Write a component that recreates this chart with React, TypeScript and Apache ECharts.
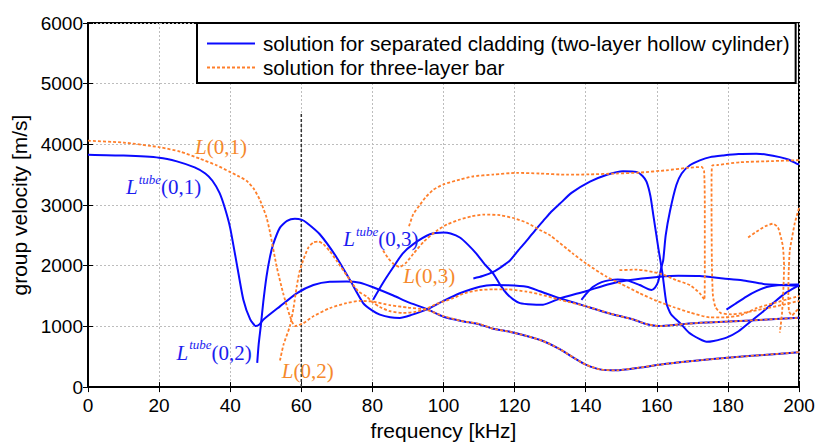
import React, { useEffect, useRef } from 'react';
import * as echarts from 'echarts';

const BLUE_NAME = 'solution for separated cladding (two-layer hollow cylinder)';
const ORANGE_NAME = 'solution for three-layer bar';
const BLUE = '#0a0aff';
const ORANGE = '#ff7f2a';
const LABEL_ORANGE = '#f5892c';
const LABEL_BLUE = '#1c1cf0';

// x: frequency [kHz], y: group velocity [m/s]
const tubeL01 = [[0,3830],[10,3815],[20,3780],[25,3720],[30,3620],[33,3520],[35,3400],[37,3200],[38.5,2950],[40,2620],[42,1980],[43.7,1440],[45.6,1120],[47.2,1005],[48.2,1030],[49.3,1110],[54,1330],[58.7,1546],[63.4,1682],[68,1736],[72.7,1740],[76.5,1720],[80,1650],[85.9,1510],[90,1400],[95.2,1290],[100,1160],[105,1090],[110.2,1033],[114,960],[118,920],[123.4,843],[128,760],[132.7,627],[137,470],[140,370],[144,292],[148.7,276],[155,320],[162.7,384],[170,430],[181.5,492],[190,530],[200,575]];
const tubeL02 = [[47.6,400],[48,700],[48.6,1005],[49.3,1400],[50.2,1817],[51.2,2150],[52.1,2357],[54,2628],[56,2740],[58.2,2774],[60,2760],[61.5,2709],[65.2,2519],[69.9,2141],[73.7,1763],[77.4,1384],[80,1260],[82.1,1195],[85,1150],[87.7,1140],[91,1190],[95.2,1276],[100,1420],[104.6,1546],[110.2,1654],[114,1682],[118,1680],[123.4,1654],[127.1,1580],[132.7,1465],[140.2,1330],[147,1210],[153.4,1114],[157,1040],[160.9,1005],[166,1030],[172.1,1059],[180,1080],[190,1110],[200,1142]];
const tubeL03 = [[80.2,1440],[83,1720],[85.9,1979],[88.5,2200],[91.5,2357],[96.2,2519],[100,2546],[102,2530],[104.6,2465],[107,2340],[109.3,2195],[111.5,2030],[114,1871],[116,1680],[117.7,1546],[119.5,1450],[121.5,1384],[125,1360],[128,1357],[132.7,1460],[140,1580],[146.8,1700],[152,1760],[160.9,1817],[166,1835],[172.1,1830],[178.7,1790],[184,1760],[190,1700],[199.3,1670],[200,1668]];
const tubeUpperA = [[108.4,1790],[111,1830],[114,1898],[116.5,1990],[118.7,2087],[121,2250],[123.4,2412],[126,2600],[128,2736],[130,2870],[132.7,3020],[136,3200],[141.2,3385],[146,3500],[150.5,3557],[154.3,3547],[156,3480],[157.1,3385],[158.2,3150],[159,2843],[160.4,2303],[161.6,1871],[162.7,1384],[164,1200],[166.5,1059],[169,900],[172.1,789],[174,746],[176,760],[179.6,816],[183,920],[187.1,1114],[190,1250],[192.7,1384],[196,1540],[199.3,1654],[200,1670]];
const tubeUpperB = [[138.8,1438],[140.5,1560],[142.1,1654],[144.5,1730],[146.8,1763],[149,1775],[151.5,1763],[155.2,1682],[158.5,1600],[159.5,1640],[160.4,1740],[161.3,1979],[161.8,2087],[162.5,2500],[163.7,2898],[165.5,3330],[167,3520],[169.3,3655],[172.1,3735],[175,3790],[178.7,3817],[183,3840],[188,3844],[191,3830],[194.6,3790],[197,3750],[199.3,3682],[200,3670]];
const tubeShort = [[179.6,1276],[182,1370],[185.2,1492],[188,1580],[190.9,1650],[194,1680],[199.3,1690],[200,1690]];

const barL01 = [[0,4060],[10,4030],[20.2,3952],[26,3880],[31.5,3763],[36,3660],[39.9,3547],[42.5,3470],[44.6,3400],[46.5,3280],[48.4,3080],[50.2,2800],[51.2,2550],[53.1,1979],[54.9,1546],[56.8,1168],[58.2,1005],[60.5,1050],[63.4,1168],[68.1,1303],[72.7,1384],[76.5,1420],[80,1410],[85,1350],[90,1310],[95.2,1276],[100,1170],[105,1090],[110.2,1040],[114,960],[118,920],[123.4,843],[128,760],[132.7,627],[137,470],[140,370],[144,292],[148.7,276],[155,320],[162.7,384],[170,430],[181.5,492],[190,530],[200,575]];
const barL02 = [[54,438],[55,700],[56.8,1005],[57.8,1300],[58.7,1654],[59.5,1900],[60.5,2087],[62,2300],[63.4,2384],[64.8,2400],[66.2,2357],[68,2240],[69.9,2087],[73.7,1763],[76,1580],[78.4,1492],[80,1400],[82.1,1320],[85,1250],[88.7,1222],[92,1240],[95.2,1290],[98,1370],[102.7,1465],[106,1550],[110.2,1600],[114,1610],[118,1610],[123.4,1573],[127,1530],[132.7,1440],[140.2,1330],[147,1210],[153.4,1114],[157,1040],[160.9,1005],[166,1030],[172.1,1059],[180,1080],[190,1110],[200,1142]];
const barL03 = [[83,2250],[84.5,2120],[85.9,2033],[87.7,1979],[89.5,2050],[91.5,2195],[94.5,2400],[98,2574],[101,2680],[104.6,2762],[108,2815],[111.2,2843],[115.9,2833],[120,2780],[123.4,2709],[127.1,2590],[130,2500],[136.5,2195],[140.2,2033],[145.9,1817],[150,1700],[155.2,1546],[160,1420],[164.6,1320],[169.3,1230],[174.9,1150],[179,1150],[183.4,1180],[188,1300],[192.7,1380],[199.3,1490],[200,1500]];
const barHigh = [[90.3,2650],[91.5,2850],[93.4,3006],[95,3130],[97.1,3250],[100,3340],[104.6,3420],[108,3470],[114,3503],[120.6,3530],[127,3520],[134.6,3500],[141,3505],[148.7,3520],[155.2,3535],[162.7,3573],[168.4,3612],[172.6,3628],[173.3,3560],[173.5,3000],[173.5,2000],[173.4,1440],[172.1,1546],[169.3,1680],[165.5,1763],[160.9,1871],[154.3,1936],[149.1,1925]];
const barRight = [[200,3740],[192.7,3725],[183.4,3705],[177,3660],[175.6,3650],[175.4,3400],[175.4,3000],[175.5,2000],[175.8,1500],[176.5,1320],[178,1220],[181,1200],[185,1230],[190,1290],[195,1350],[200,1420]];
const barHump = [[185.7,2465],[188,2560],[190.5,2650],[192.7,2693],[194.1,2628],[195,2450],[195.5,2303],[195.8,2000],[195.6,1600],[195.2,1200],[194.6,897]];
const barV = [[200,2950],[199.5,2850],[198.8,2700],[198,2450],[197.4,2250],[197.1,1900],[197,1500],[197.2,1250],[198,1180],[199,1240],[200,1300]];

const markerLine = [[60,0],[60,4500]];

const blueSeries = [tubeL01, tubeL02, tubeL03, tubeUpperA, tubeUpperB, tubeShort];
const orangeSeries = [barL01, barL02, barL03, barHigh, barRight, barHump, barV];

// annotation labels (left edge, vertical middle, in data coordinates)
const labelTexts = ['(0,1)', '(0,1)', '(0,2)', '(0,2)', '(0,3)', '(0,3)'];
const labelTube = [false, true, true, false, true, false];
const labelCoords = [[30.1,3958],[10.7,3293],[24.9,568],[54.5,260],[71.8,2433],[88.7,1833]];

const SERIF = '"Liberation Serif", "DejaVu Serif", serif';
const SANS = '"Liberation Sans", Arial, sans-serif';

export default function App() {
  const ref = useRef<HTMLDivElement>(null);
  useEffect(() => {
    if (!ref.current) return;
    const chart = echarts.init(ref.current, null, { renderer: 'svg' });
    const splitLine = { show: true, lineStyle: { color: '#bdbdbd', type: [2, 2], width: 1 } };
    const series: any[] = [];
    blueSeries.forEach((d) => series.push({
      type: 'line', name: BLUE_NAME, data: d, symbol: 'none', showSymbol: false, smooth: 0.2,
      lineStyle: { color: BLUE, width: 2 }, itemStyle: { color: BLUE }, z: 3,
    }));
    orangeSeries.forEach((d) => series.push({
      type: 'line', name: ORANGE_NAME, data: d, symbol: 'none', showSymbol: false, smooth: 0.2,
      lineStyle: { color: ORANGE, width: 1.8, type: [3, 2] }, itemStyle: { color: ORANGE }, z: 4,
    }));
    series.push({
      type: 'line', name: 'marker', data: markerLine, symbol: 'none', showSymbol: false,
      lineStyle: { color: '#333', width: 1.5, type: [3, 2] }, z: 2,
    });
    const tickFmt = (v: number) => String(v);
    chart.setOption({
      animation: false,
      grid: { left: 88, top: 23, right: 25, bottom: 54, show: true, borderColor: '#000', borderWidth: 2, backgroundColor: 'transparent' },
      xAxis: [
        {
          type: 'value', min: 0, max: 200, interval: 20, position: 'bottom',
          name: 'frequency [kHz]', nameLocation: 'middle', nameGap: 32,
          nameTextStyle: { fontSize: 21, fontFamily: SANS, color: '#000' },
          axisLine: { show: true, onZero: false, lineStyle: { color: '#000', width: 2 } },
          axisTick: { show: true, inside: true, length: 5, lineStyle: { color: '#000' } },
          axisLabel: { fontSize: 19, fontFamily: SANS, color: '#000', margin: 9, formatter: tickFmt },
          splitLine,
        },
        {
          type: 'value', min: 0, max: 200, interval: 20, position: 'top',
          axisLine: { show: false },
          axisTick: { show: true, inside: true, length: 5, lineStyle: { color: '#000' } },
          axisLabel: { show: false }, splitLine: { show: false },
        },
      ],
      yAxis: [
        {
          type: 'value', min: 0, max: 6000, interval: 1000, position: 'left',
          name: 'group velocity [m/s]', nameLocation: 'middle', nameGap: 56, nameRotate: 90,
          nameTextStyle: { fontSize: 21, fontFamily: SANS, color: '#000' },
          axisLine: { show: true, onZero: false, lineStyle: { color: '#000', width: 2 } },
          axisTick: { show: true, inside: true, length: 5, lineStyle: { color: '#000' } },
          axisLabel: { fontSize: 19, fontFamily: SANS, color: '#000', margin: 5, formatter: tickFmt },
          splitLine,
        },
        {
          type: 'value', min: 0, max: 6000, interval: 1000, position: 'right',
          axisLine: { show: false },
          axisTick: { show: true, inside: true, length: 5, lineStyle: { color: '#000' } },
          axisLabel: { show: false }, splitLine: { show: false },
        },
      ],
      legend: {
        data: [BLUE_NAME, ORANGE_NAME], orient: 'vertical', left: 197, top: 23,
        padding: [10, 6, 5, 9], itemWidth: 48, itemHeight: 14, itemGap: 3,
        itemStyle: { opacity: 0 },
        textStyle: { fontSize: 20.7, fontFamily: SANS, color: '#000', padding: [0, 0, 0, 3] },
        borderColor: '#000', borderWidth: 2, backgroundColor: '#fff', selectedMode: false,
      },
      series,
    });
    const graphic = labelCoords.map((c, i) => {
      const p = chart.convertToPixel({ gridIndex: 0 }, c) as number[];
      const color = labelTube[i] ? LABEL_BLUE : LABEL_ORANGE;
      const text = labelTube[i] ? `{i|L}{s|tube}{n|${labelTexts[i]}}` : `{i|L}{n|${labelTexts[i]}}`;
      return {
        type: 'text', x: p[0], y: p[1], z: 10,
        style: {
          text, fill: color, align: 'left', verticalAlign: 'middle',
          rich: {
            i: { fontFamily: SERIF, fontStyle: 'italic', fontSize: 21, fill: color, color },
            s: { fontFamily: SERIF, fontStyle: 'italic', fontSize: 13, fill: color, color, padding: [0, 0, 16, 1] },
            n: { fontFamily: SERIF, fontSize: 21, fill: color, color },
          },
        },
      };
    });
    chart.setOption({ graphic });
    return () => chart.dispose();
  }, []);
  return <div ref={ref} style={{ position: 'fixed', left: 0, top: 0, width: 824, height: 446, background: '#fff' }} />;
}
